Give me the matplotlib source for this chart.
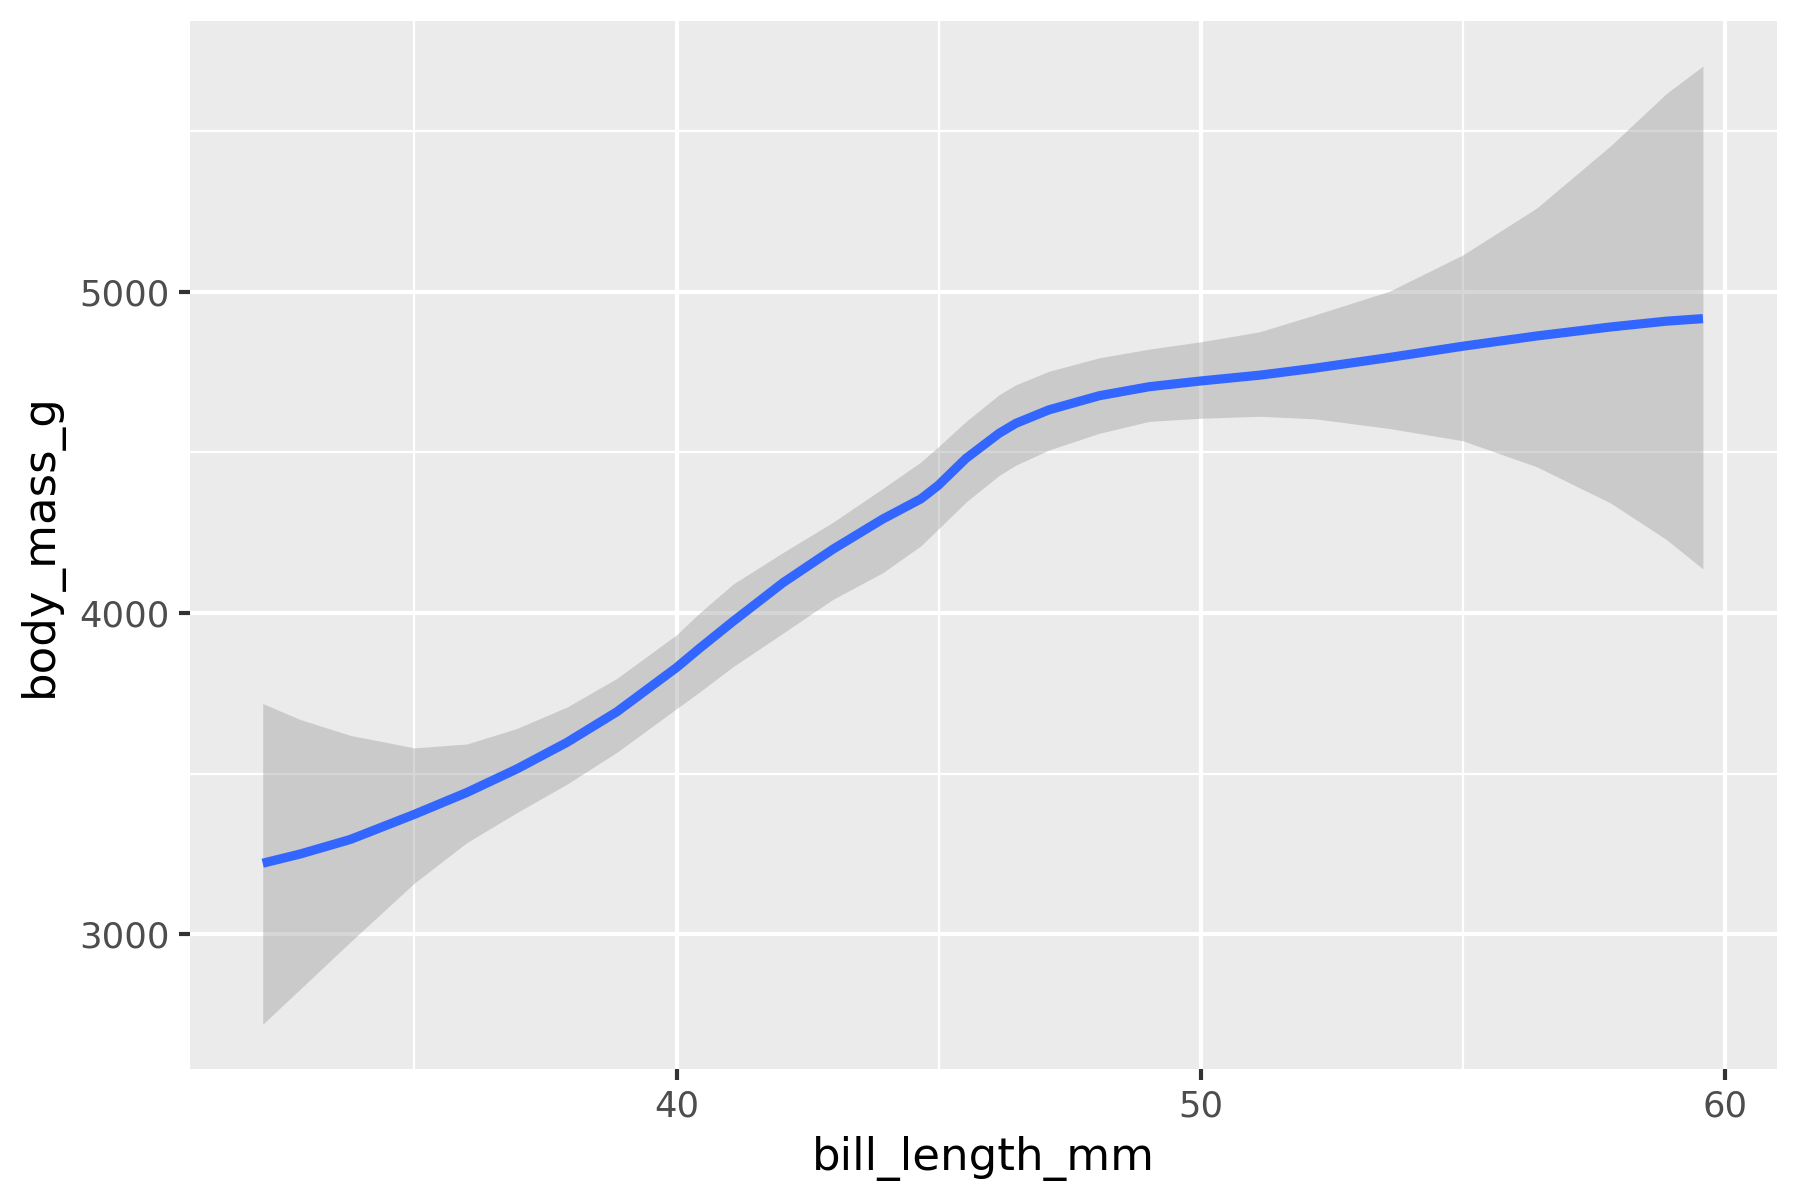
import matplotlib
matplotlib.use('Agg')
import matplotlib.pyplot as plt

# smoothed fit (bill length in mm, body mass in g)
bill_length = [32.11, 32.83, 33.78, 35.0, 36.0, 36.95, 37.91, 38.86, 40.0, 40.44,
               41.08, 42.03, 42.98, 43.93, 44.66, 44.99, 45.52, 46.15, 46.47, 47.1,
               48.06, 49.01, 50.0, 51.12, 52.18, 53.59, 54.99, 56.4, 57.81, 58.87,
               59.57]
fit_mass = [3221, 3250, 3295, 3373, 3441, 3514, 3597, 3692, 3830, 3890,
            3974, 4094, 4198, 4292, 4355, 4397, 4481, 4559, 4590, 4632,
            4676, 4704, 4722, 4740, 4762, 4795, 4830, 4862, 4890, 4908,
            4916]
upper_mass = [3718, 3668, 3619, 3580, 3592, 3640, 3707, 3796, 3932, 4000,
              4090, 4188, 4282, 4387, 4470, 4517, 4596, 4679, 4710, 4752,
              4794, 4821, 4844, 4875, 4928, 5001, 5114, 5260, 5454, 5616,
              5702]
lower_mass = [2720, 2830, 2976, 3159, 3285, 3378, 3467, 3566, 3702, 3754,
              3833, 3937, 4042, 4125, 4209, 4261, 4345, 4428, 4460, 4507,
              4559, 4596, 4606, 4612, 4604, 4574, 4536, 4455, 4342, 4229,
              4137]

x_major = [40, 50, 60]
x_minor = [35, 45, 55]
y_major = [3000, 4000, 5000]
y_minor = [3500, 4500, 5500]


def main():
    fig = plt.figure(figsize=(6, 4), dpi=300)
    ax = fig.add_axes([0.1056, 0.109, 0.8814, 0.8737])
    ax.set_facecolor('#EBEBEB')

    ax.fill_between(bill_length, lower_mass, upper_mass, color='#999999',
                    alpha=0.4, linewidth=0, zorder=3)
    ax.plot(bill_length, fit_mass, color='#3366FF', linewidth=2.2,
            solid_capstyle='butt', solid_joinstyle='round', zorder=4)

    ax.set_xlim(30.725, 60.975)
    ax.set_ylim(2580, 5843)
    ax.set_xticks(x_major)
    ax.set_xticks(x_minor, minor=True)
    ax.set_yticks(y_major)
    ax.set_yticks(y_minor, minor=True)

    ax.grid(which='major', color='white', linewidth=1.0)
    ax.grid(which='minor', color='white', linewidth=0.55)
    ax.set_axisbelow(True)
    for s in ax.spines.values():
        s.set_visible(False)

    ax.tick_params(which='major', length=2.7, width=1.0, color='#333333',
                   labelcolor='#4D4D4D', labelsize=8.5, pad=2.2)
    ax.tick_params(which='minor', length=0)

    ax.set_xlabel('bill_length_mm', fontsize=10.8, color='black', labelpad=3)
    ax.set_ylabel('body_mass_g', fontsize=10.8, color='black', labelpad=4)

    fig.savefig('out.png', dpi=300, facecolor='white')


if __name__ == '__main__':
    main()
